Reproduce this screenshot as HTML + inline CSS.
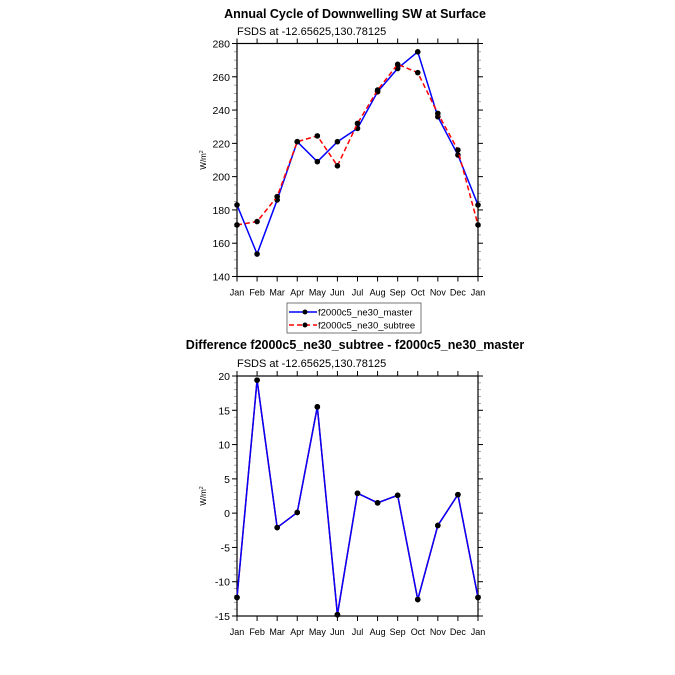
<!DOCTYPE html>
<html><head><meta charset="utf-8"><style>
body{margin:0;background:#fff;}
svg{display:block;font-family:"Liberation Sans",Arial,sans-serif;}
</style></head><body>
<svg id="c" width="675" height="675" viewBox="0 0 675 675">
<text x="355" y="18" text-anchor="middle" font-size="12.5" font-weight="bold">Annual Cycle of Downwelling SW at Surface</text>
<text x="237" y="35" font-size="11">FSDS at -12.65625,130.78125</text>
<text x="355" y="349" text-anchor="middle" font-size="12.5" font-weight="bold">Difference f2000c5_ne30_subtree - f2000c5_ne30_master</text>
<text x="237" y="367" font-size="11">FSDS at -12.65625,130.78125</text>
<g>
<rect x="287" y="303" width="134" height="30" fill="#fff" stroke="#555" stroke-width="0.8"/>
<g>
<line x1="289" y1="312" x2="317" y2="312" stroke="#0000ff" stroke-width="1.5"/>
<circle cx="305" cy="312" r="2.5" fill="#000"/>
<text x="318" y="315.5" font-size="9.5">f2000c5_ne30_master</text></g>
<g>
<line x1="289" y1="325" x2="317" y2="325" stroke="#ff0000" stroke-width="1.5" stroke-dasharray="5,3"/>
<circle cx="305" cy="325" r="2.5" fill="#000"/>
<text x="318" y="328.5" font-size="9.5">f2000c5_ne30_subtree</text></g>
</g>
</svg>
<script>
const months=["Jan","Feb","Mar","Apr","May","Jun","Jul","Aug","Sep","Oct","Nov","Dec","Jan"];
const masterVals=[183,153.5,186,221,209,221,229,251,265,275,236,213,183];
const subtreeVals=[171,173,188,221,224.5,206.5,232,252,267.5,262.5,238,216,171];
const diffVals=[-12.3,19.4,-2.1,0.1,15.5,-14.8,2.9,1.5,2.6,-12.6,-1.8,2.7,-12.3];
const topTicks=[140,160,180,200,220,240,260,280];
const botTicks=[-15,-10,-5,0,5,10,15,20];
const svg=document.getElementById('c');
const NS="http://www.w3.org/2000/svg";
function mk(t,a){const e=document.createElementNS(NS,t);for(const k in a)e.setAttribute(k,a[k]);svg.appendChild(e);return e;}
function panel(name,top,bot,ymin,ymax,ticks,minorStep,series){
  const L=237,R=478;
  const x=i=>L+(R-L)*i/(months.length-1);
  const y=v=>bot-(bot-top)*(v-ymin)/(ymax-ymin);
  for(let v=ymin;v<=ymax+1e-9;v+=minorStep){
    const yy=y(v);
    const l1=mk('line',{x1:L-3,x2:L,y1:yy,y2:yy,stroke:'#888','stroke-width':0.7});
    
    
    const l2=mk('line',{x1:R,x2:R+3,y1:yy,y2:yy,stroke:'#888','stroke-width':0.7});
    
    
  }
  ticks.forEach(v=>{
    const yy=y(v);
    const a=mk('line',{x1:L-5,x2:L,y1:yy,y2:yy,stroke:'#000','stroke-width':1});
    
    
    const b=mk('line',{x1:R,x2:R+5,y1:yy,y2:yy,stroke:'#000','stroke-width':1});
    
    
    const t=mk('text',{x:L-7,y:yy+4,'text-anchor':'end','font-size':10.5});
    t.textContent=v;
    
    
  });
  months.forEach((m,i)=>{
    const xx=x(i);
    const a=mk('line',{x1:xx,x2:xx,y1:bot,y2:bot+5,stroke:'#000','stroke-width':1});
    
    
    const b=mk('line',{x1:xx,x2:xx,y1:top-5,y2:top,stroke:'#000','stroke-width':1});
    
    
    const t=mk('text',{x:xx,y:bot+19,'text-anchor':'middle','font-size':9});
    t.textContent=m;
    
    
  });
  const fr=mk('rect',{x:L,y:top,width:R-L,height:bot-top,fill:'none',stroke:'#000','stroke-width':1.2});
  
  
  const yl=mk('text',{x:0,y:0,'font-size':8,'text-anchor':'middle',transform:`translate(206,${(top+bot)/2}) rotate(-90)`});
  yl.innerHTML='W/m<tspan font-size="5" dy="-3">2</tspan>';
  
  
  series.forEach(s=>{
    const p=mk('polyline',{points:s.vals.map((v,i)=>x(i)+','+y(v)).join(' '),fill:'none',stroke:s.color,'stroke-width':1.5,'stroke-dasharray':s.dash||'none'});
    
    
    s.vals.forEach((v,i)=>{
      const c=mk('circle',{cx:x(i),cy:y(v),r:2.8,fill:'#000'});
      
      
    });
  });
}
panel('top-panel',43.5,276.5,140,280,topTicks,5,[
  {name:'master',vals:masterVals,color:'#0000ff'},
  {name:'subtree',vals:subtreeVals,color:'#ff0000',dash:'5,3'}]);
panel('bottom-panel',376,616,-15,20,botTicks,1,[
  {name:'diff-red',vals:diffVals,color:'#ff0000'},
  {name:'diff',vals:diffVals,color:'#0000ff'}]);
</script>
</body></html>
